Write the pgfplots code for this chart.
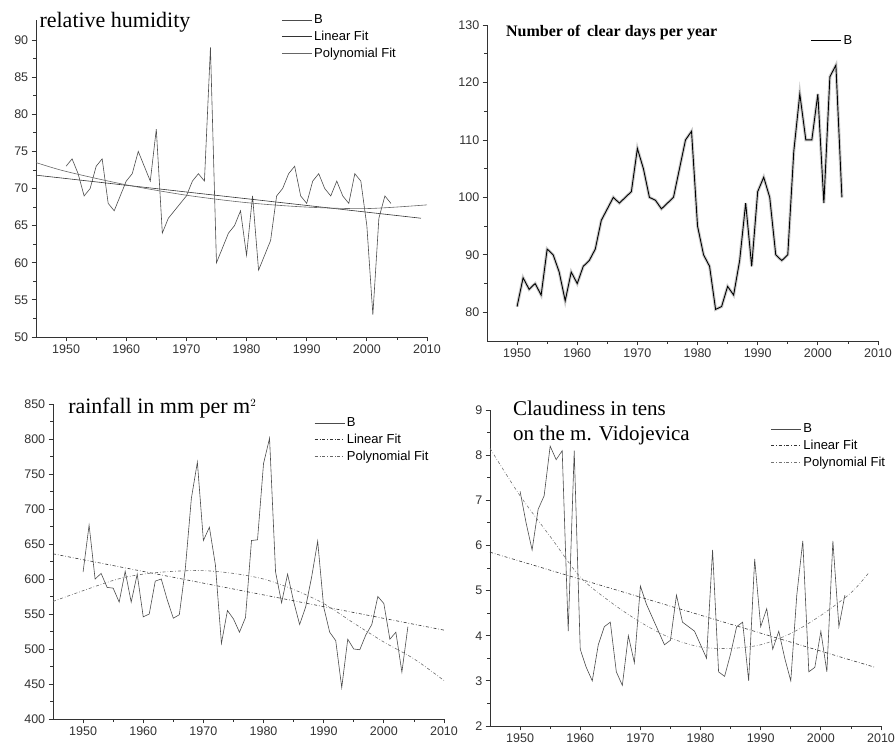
\documentclass[border=0pt]{standalone}
\usepackage{pgfplots}
\pgfplotsset{compat=1.18}
\usepackage{fontspec}
\setmainfont{Liberation Sans}
\newfontfamily\tfont{Liberation Serif}
\pgfplotsset{
  base/.style={scale only axis, width=391pt, anchor=north west, clip=false,
    axis lines*=left, axis line style={-, thick, black!80}, tick style={black!80, thick},
    tick align=outside, xmin=1945, xmax=2010, xtick={1950,1960,...,2010},
    minor x tick num=1, minor y tick num=1,
    ticklabel style={font=\fontsize{12.5}{13}\selectfont, text=black!80},
    /pgf/number format/assume math mode=true, /pgf/number format/set thousands separator={},
    every axis plot/.append style={line width=0.6pt, black!75},
    legend style={draw=none, fill=none, font=\fontsize{13}{14}\selectfont, row sep=2pt},
    legend image code/.code={\draw[#1] (0pt,0pt) -- (30pt,0pt);},
    legend cell align=left},
}
\begin{document}
\begin{tikzpicture}
\path[use as bounding box] (0pt,0pt) rectangle (896pt,-748pt);
% Panel 1
\begin{axis}[base, at={(36pt,-20pt)}, height=317pt, ymin=50, ymax=92.7, ytick={50,55,...,90},
  legend style={at={(0.62,1.03)}, anchor=north west}]
\addplot[black!70] coordinates {(1950,73)(1951,74)(1952,72)(1953,69)(1954,70)(1955,73)(1956,74)(1957,68)(1958,67)(1959,69)(1960,71)(1961,72)(1962,75)(1963,73)(1964,71)(1965,78)(1966,64)(1967,66)(1968,67)(1969,68)(1970,69)(1971,71)(1972,72)(1973,71)(1974,89)(1975,60)(1976,62)(1977,64)(1978,65)(1979,67)(1980,61)(1981,69)(1982,59)(1983,61)(1984,63)(1985,69)(1986,70)(1987,72)(1988,73)(1989,69)(1990,68)(1991,71)(1992,72)(1993,70)(1994,69)(1995,71)(1996,69)(1997,68)(1998,72)(1999,71)(2000,65)(2001,53)(2002,66)(2003,69)(2004,68)};
\addlegendentry{B}
\addplot[black!80] coordinates {(1945,71.8)(2009,66)};
\addlegendentry{Linear Fit}
\addplot[black!60, smooth] coordinates {(1945,73.5)(1950,72.3)(1960,70.5)(1970,69.1)(1980,68.1)(1990,67.5)(2000,67.3)(2010,67.8)};
\addlegendentry{Polynomial Fit}
\node[anchor=north west, font=\tfont\fontsize{22}{24}\selectfont] at (rel axis cs:0.0,1.035) {relative humidity};
\end{axis}
% Panel 2
\begin{axis}[base, at={(487pt,-25pt)}, height=316pt, ymin=75, ymax=130, ytick={80,90,...,130},
  legend style={at={(0.82,0.98)}, anchor=north west}]
\addplot[lightgray!80, line width=3pt, forget plot] coordinates {(1950,81)(1951,86)(1952,84)(1953,85)(1954,83)(1955,91)(1956,90)(1957,87)(1958,82)(1959,87)(1960,85)(1961,88)(1962,89)(1963,91)(1964,96)(1965,98)(1966,100)(1967,99)(1968,100)(1969,101)(1970,108.5)(1971,105)(1972,100)(1973,99.5)(1974,98)(1975,99)(1976,100)(1977,105)(1978,110)(1979,111.5)(1980,95)(1981,90)(1982,88)(1983,80.5)(1984,81)(1985,84.5)(1986,83)(1987,89)(1988,99)(1989,88)(1990,101)(1991,103.5)(1992,100)(1993,90)(1994,89)(1995,90)(1996,108)(1997,118)(1998,110)(1999,110)(2000,118)(2001,99)(2002,121)(2003,123)(2004,100)};
\addplot[black, line width=0.9pt] coordinates {(1950,81)(1951,86)(1952,84)(1953,85)(1954,83)(1955,91)(1956,90)(1957,87)(1958,82)(1959,87)(1960,85)(1961,88)(1962,89)(1963,91)(1964,96)(1965,98)(1966,100)(1967,99)(1968,100)(1969,101)(1970,108.5)(1971,105)(1972,100)(1973,99.5)(1974,98)(1975,99)(1976,100)(1977,105)(1978,110)(1979,111.5)(1980,95)(1981,90)(1982,88)(1983,80.5)(1984,81)(1985,84.5)(1986,83)(1987,89)(1988,99)(1989,88)(1990,101)(1991,103.5)(1992,100)(1993,90)(1994,89)(1995,90)(1996,108)(1997,118)(1998,110)(1999,110)(2000,118)(2001,99)(2002,121)(2003,123)(2004,100)};
\addlegendentry{B}
\node[anchor=north west, font=\tfont\bfseries\fontsize{16}{17}\selectfont] at (rel axis cs:0.04,1.01) {Number of\, clear days per year};
\end{axis}
% Panel 3
\begin{axis}[base, at={(53pt,-404pt)}, height=315pt, ymin=400, ymax=850, ytick={400,450,...,850},
  legend style={at={(0.66,0.97)}, anchor=north west}]
\addplot[black!70] coordinates {(1950,610)(1951,677)(1952,600)(1953,608)(1954,588)(1955,587)(1956,567)(1957,611)(1958,567)(1959,607)(1960,546)(1961,550)(1962,597)(1963,600)(1964,570)(1965,544)(1966,549)(1967,615)(1968,715)(1969,767)(1970,655)(1971,674)(1972,620)(1973,508)(1974,555)(1975,543)(1976,524)(1977,545)(1978,655)(1979,656)(1980,765)(1981,801)(1982,610)(1983,566)(1984,607)(1985,568)(1986,535)(1987,560)(1988,603)(1989,654)(1990,560)(1991,524)(1992,512)(1993,445)(1994,514)(1995,500)(1996,499)(1997,520)(1998,535)(1999,575)(2000,565)(2001,514)(2002,524)(2003,467)(2004,532)};
\addlegendentry{B}
\addplot[black!80, dash dot] coordinates {(1945,636)(2010,527)};
\addlegendentry{Linear Fit}
\addplot[black!60, smooth, dash dot] coordinates {(1945,568)(1955,598)(1960,607)(1965,611)(1970,612)(1975,608)(1980,600)(1985,585)(1990,565)(1995,537)(2000,510)(2005,486)(2010,455)};
\addlegendentry{Polynomial Fit}
\node[anchor=north west, font=\tfont\fontsize{22}{24}\selectfont] at (rel axis cs:0.03,1.03) {rainfall in mm per m$^{\scriptscriptstyle 2}$};
\end{axis}
% Panel 4
\begin{axis}[base, at={(490pt,-410pt)}, height=316pt, ymin=2, ymax=9, ytick={2,...,9},
  legend style={at={(0.71,0.97)}, anchor=north west}]
\addplot[black!70] coordinates {(1950,7.2)(1951,6.5)(1952,5.9)(1953,6.8)(1954,7.1)(1955,8.2)(1956,7.9)(1957,8.1)(1958,4.1)(1959,8.1)(1960,3.7)(1961,3.3)(1962,3.0)(1963,3.8)(1964,4.2)(1965,4.3)(1966,3.2)(1967,2.9)(1968,4.0)(1969,3.4)(1970,5.1)(1971,4.7)(1972,4.4)(1973,4.1)(1974,3.8)(1975,3.9)(1976,4.9)(1977,4.3)(1978,4.2)(1979,4.1)(1980,3.8)(1981,3.5)(1982,5.9)(1983,3.2)(1984,3.1)(1985,3.6)(1986,4.2)(1987,4.3)(1988,3.0)(1989,5.7)(1990,4.2)(1991,4.6)(1992,3.7)(1993,4.1)(1994,3.5)(1995,3.0)(1996,4.9)(1997,6.1)(1998,3.2)(1999,3.3)(2000,4.1)(2001,3.2)(2002,6.1)(2003,4.2)(2004,4.9)};
\addlegendentry{B}
\addplot[black!80, dash dot] coordinates {(1945,5.85)(2009,3.3)};
\addlegendentry{Linear Fit}
\addplot[black!55, smooth, dash dot] coordinates {(1945,8.15)(1950,7.1)(1955,6.2)(1960,5.3)(1965,4.75)(1970,4.3)(1975,3.95)(1980,3.75)(1985,3.72)(1990,3.8)(1995,4.05)(2000,4.45)(2005,4.95)(2008,5.4)};
\addlegendentry{Polynomial Fit}
\node[anchor=north west, align=left, font=\tfont\fontsize{21}{25}\selectfont] at (rel axis cs:0.05,1.04) {Claudiness in tens\\on the m. Vidojevica};
\end{axis}
\end{tikzpicture}
\end{document}
